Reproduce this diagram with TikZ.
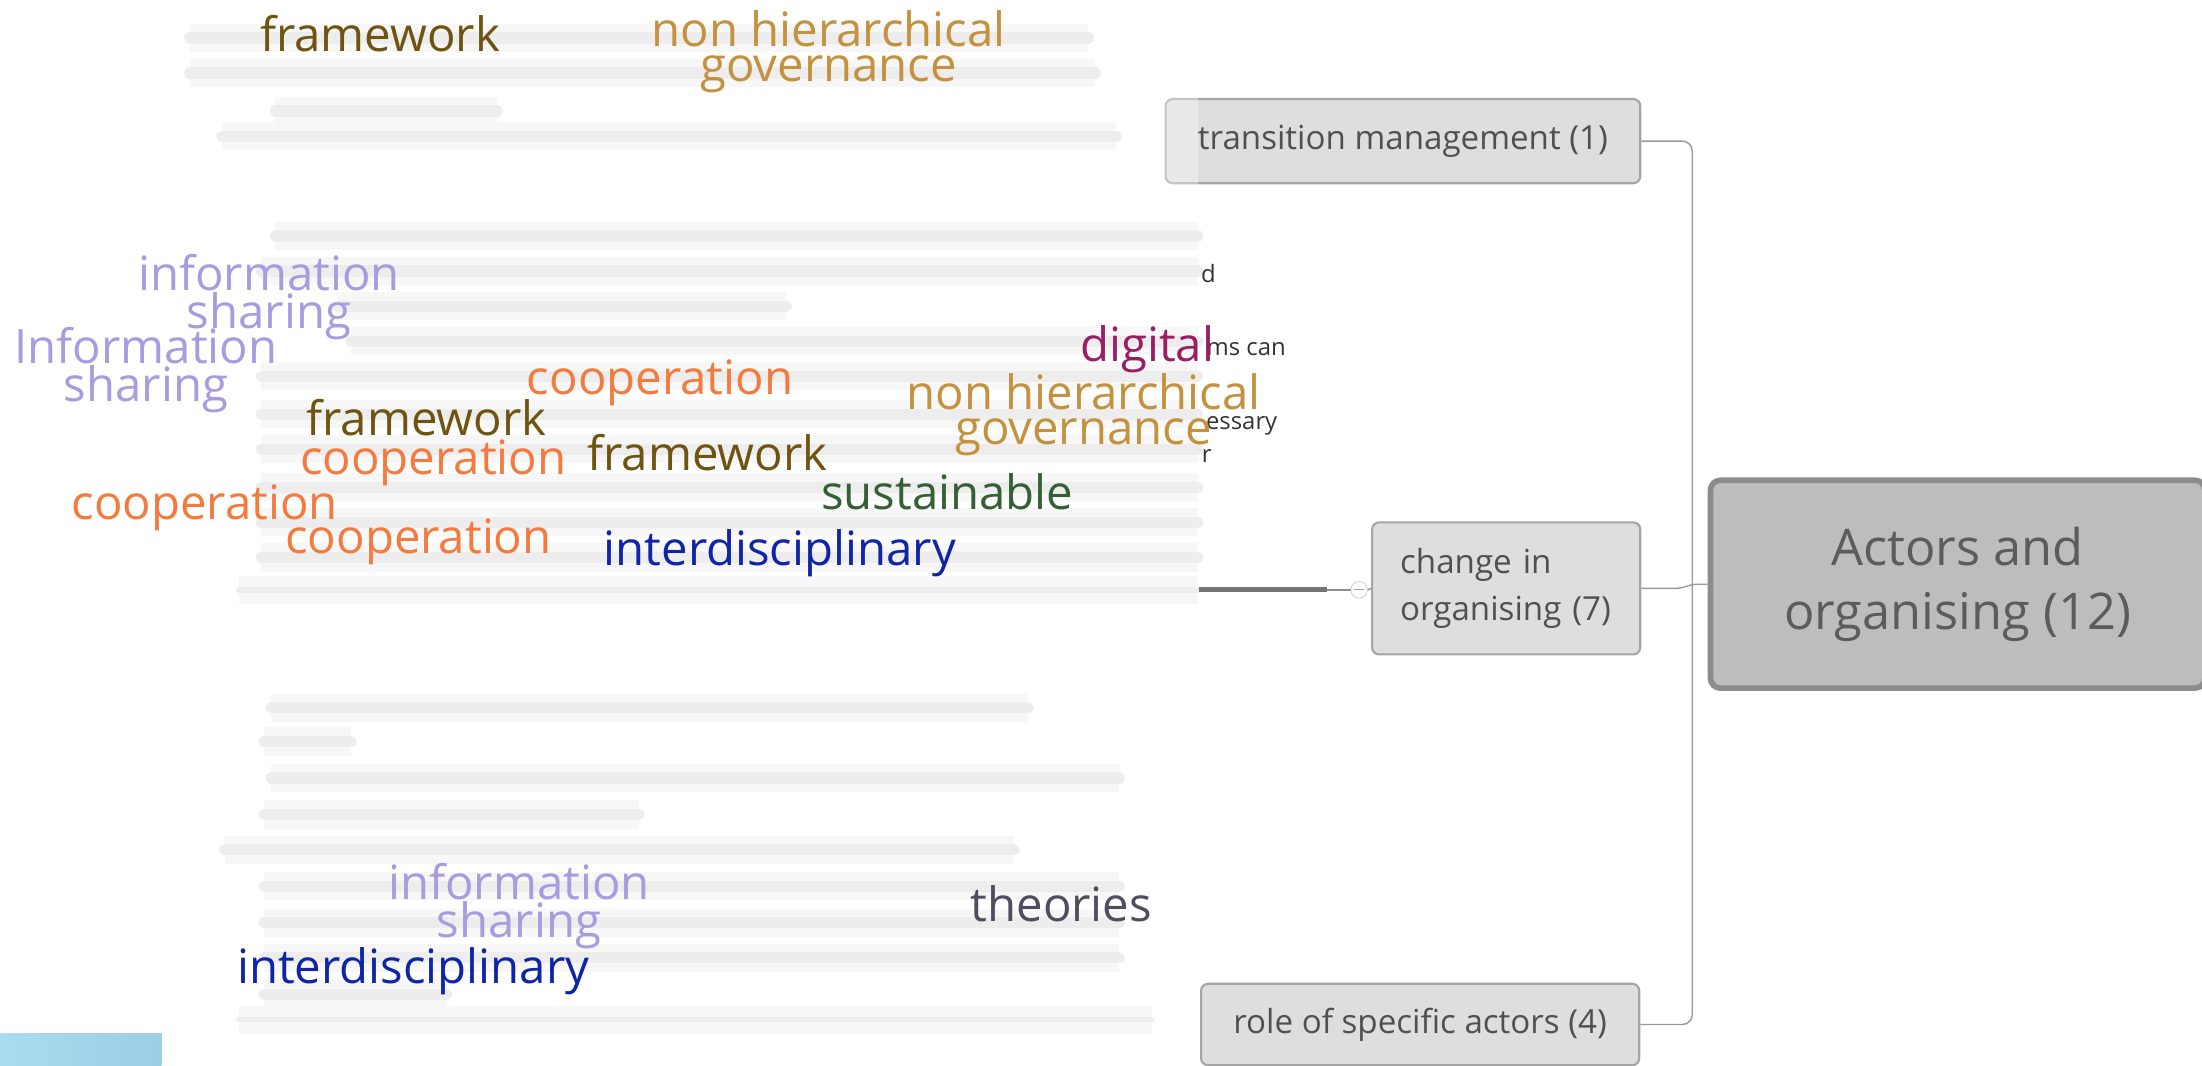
\documentclass[tikz,border=0pt]{standalone}
\usepackage{fontspec}
\setmainfont{Open Sans}
\usepackage{xcolor}
\usetikzlibrary{arrows.meta,positioning,calc}

\definecolor{olive}{HTML}{6E5410}
\definecolor{gold}{HTML}{C4913E}
\definecolor{lilac}{HTML}{A89BE0}
\definecolor{plum}{HTML}{9B1D64}
\definecolor{coral}{HTML}{F47A3E}
\definecolor{pine}{HTML}{355F35}
\definecolor{navy}{HTML}{0F24A6}
\definecolor{slate}{HTML}{4E4E5E}
\definecolor{boxfill}{HTML}{DEDEDE}
\definecolor{boxline}{HTML}{A5A5A5}
\definecolor{rootfill}{HTML}{BDBDBD}
\definecolor{rootline}{HTML}{8C8C8C}
\definecolor{boxtext}{HTML}{505050}
\definecolor{skyA}{HTML}{A9DCF0}
\definecolor{skyB}{HTML}{9CCFE5}

\begin{document}
\begin{tikzpicture}[x=1pt,y=-1pt,
  smudge/.style={line cap=round, line width=8pt, draw=black!7, preaction={draw=black!3, line width=20pt}},
  topic/.style={rectangle, draw=boxline, line width=1.5pt, rounded corners=5pt, fill=boxfill, text=boxtext, font=\fontsize{23.6}{33.7}\selectfont},
  root/.style={rectangle, draw=rootline, line width=4pt, rounded corners=7pt, fill=rootfill, text=black!64, align=center, font=\fontsize{36}{46}\selectfont},
  link/.style={draw=black!40, line width=1pt, rounded corners=7pt},
  word/.style={inner sep=0pt, align=center, font=\fontsize{33.7}{25}\selectfont},
  scrap/.style={inner sep=0pt, anchor=base west, text=black!80, font=\fontsize{17}{20}\selectfont},
]
\useasboundingbox (0,0) rectangle (1568,759);

% blurred text behind the cloud
\foreach \y/\a/\b in {27/135/775, 52/135/780, 79/196/354, 97/158/795,
    168/196/853, 193/186/853, 218/240/560, 243/250/853, 268/186/853, 295/186/853,
    320/186/853, 347/186/853, 372/186/853, 397/186/853,
    504/193/732, 528/188/250, 554/193/797, 580/188/455, 605/160/722,
    631/188/797, 657/188/797, 682/188/797, 708/188/318}
  \draw[smudge] (\a,\y) -- (\b,\y);
\draw[smudge, line width=4pt] (170,420) -- (853,420);
\draw[smudge, line width=4pt] (170,726) -- (820,726);

% mind map
\node[root, minimum width=352, minimum height=148] (root) at (1394,416) {Actors and\\organising (12)};
\node[topic, minimum width=338, minimum height=60] (tm) at (999,100.5) {transition management (1)};
\node[topic, minimum width=191, minimum height=94, text width=151, inner xsep=20pt, align=left] (co) at (1072.5,419) {change in\\organising (7)};
\node[topic, minimum width=312, minimum height=58, anchor=east] (ra) at (1168,729.5) {role of specific actors (4)};
\fill[white, opacity=0.35] (815,62) rectangle (853,140);

\coordinate (hub) at (1205,416);
\draw[link] (tm.east) -| (hub);
\draw[link] (ra.east) -| (hub);
\draw[link, rounded corners=4pt] (co.east) -- ++(28,0) -- (hub) -- (root.west);

% collapse handle
\node[circle, draw=black!25, fill=white, minimum size=11.8pt, inner sep=0pt] (knob) at (967.8,420) {};
\draw[black!35, line width=0.8pt] ($(knob.center)+(-3.5,0)$) -- ($(knob.center)+(3.5,0)$);
\coordinate (cut) at (944.7,420);
\draw[black!55, line width=3.5pt] (853.5,420) -- (cut);
\draw[black!45, line width=1pt] (cut) -- (knob.west);
\draw[black!45, line width=1pt] (knob.east) -- (co.west);

% text cut off at the panel edge
\node[scrap] (s1) at (855,201.4) {d};
\node[scrap] (s2) at (859,253.2) {ms can};
\node[scrap] (s3) at (858.6,305.8) {essary};
\node[scrap] (s4) at (855.7,329.5) {r};

% word cloud
\node[word, anchor=base west, text=olive] (fw1) at (185,36.9) {framework};
\node[word, anchor=base, text=gold] (nh1) at (590,58) {non hierarchical\\governance};
\node[word, anchor=base, text=lilac] (is1) at (191.5,234) {information\\sharing};
\node[word, anchor=base, text=lilac] (is2) at (104,286) {Information\\sharing};
\node[word, anchor=base west, text=plum] (dg) at (769,257.5) {digital};
\node[word, anchor=base, text=gold] (nh2) at (771.5,316.6) {non hierarchical\\governance};
\node[word, anchor=base west, text=coral] (cp1) at (375,281) {cooperation};
\node[word, anchor=base west, text=olive] (fw2) at (218,310) {framework};
\node[word, anchor=base west, text=coral] (cp2) at (213.6,338) {cooperation};
\node[word, anchor=base west, text=olive] (fw3) at (418,335) {framework};
\node[word, anchor=base west, text=coral] (cp3) at (50.7,370) {cooperation};
\node[word, anchor=base west, text=pine] (su) at (584.6,363) {sustainable};
\node[word, anchor=base west, text=coral] (cp4) at (203,394) {cooperation};
\node[word, anchor=base west, text=navy] (id1) at (429.7,403) {interdisciplinary};
\node[word, anchor=base, text=lilac] (is3) at (369.5,667.6) {information\\sharing};
\node[word, anchor=base west, text=slate] (th) at (691,656.5) {theories};
\node[word, anchor=base west, text=navy] (id2) at (168.6,700.5) {interdisciplinary};

% corner tab
\shade[left color=skyA, right color=skyB] (0,736) rectangle (115,759);
\end{tikzpicture}
\end{document}
